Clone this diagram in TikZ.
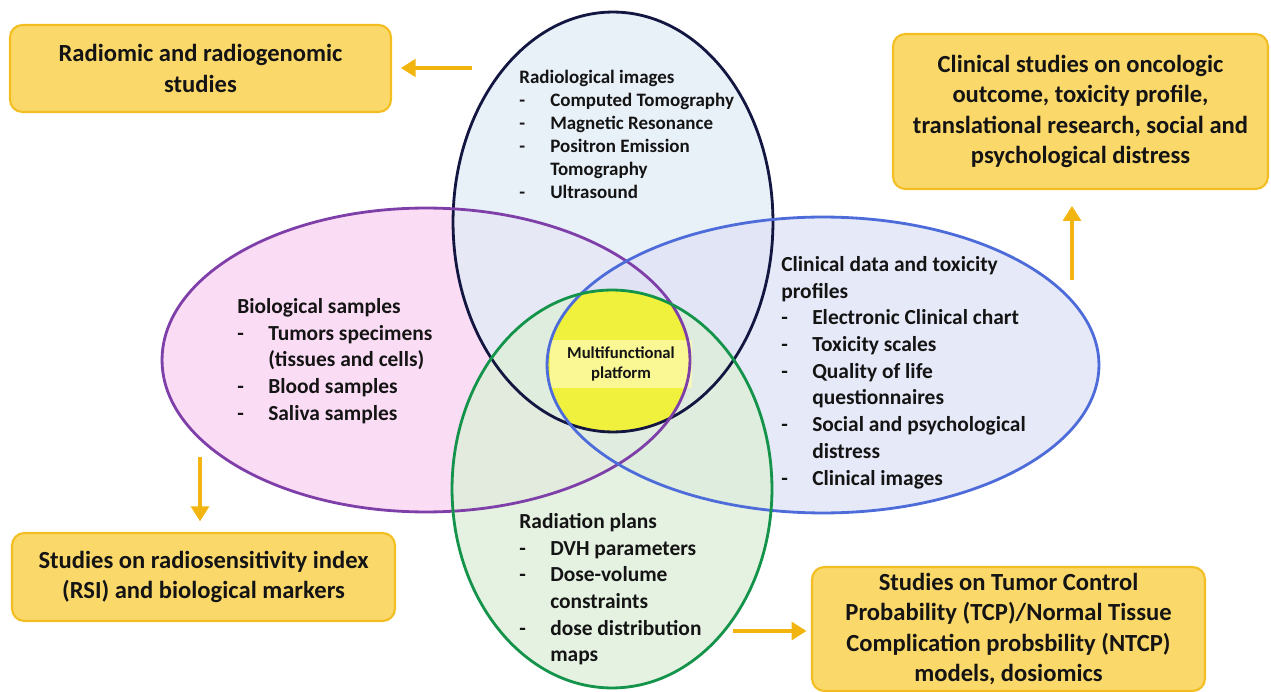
\documentclass[tikz,border=0pt]{standalone}
\usepackage{fontspec}
\setmainfont{Carlito}
\usepackage{tikz}
\usetikzlibrary{arrows.meta,positioning,shapes,calc}

\definecolor{ink}{HTML}{141414}
\definecolor{radioline}{HTML}{121640}
\definecolor{bioline}{HTML}{7E3FA8}
\definecolor{clinline}{HTML}{4D6CDA}
\definecolor{planline}{HTML}{14934A}
\definecolor{radiofill}{HTML}{E2ECF6}
\definecolor{biofill}{HTML}{FAD3F3}
\definecolor{clinfill}{HTML}{E0E3F6}
\definecolor{planfill}{HTML}{DEEFDA}
\definecolor{corefill}{HTML}{EFF13C}
\definecolor{boxfill}{HTML}{FBD86A}
\definecolor{boxline}{HTML}{F2BE22}
\definecolor{arrowcol}{HTML}{F2B50F}

\newcommand{\itemdash}{\makebox[17.6pt][l]{-}}% dash of a list entry
\newcommand{\itemcont}{\hspace*{17.6pt}}% second line of an entry

\begin{document}
\begin{tikzpicture}[x=0.02cm, y=-0.02cm,
     venn/.style = {fill=#1, fill opacity=0.8}, % soft fill of a set
     ring/.style = {draw=#1, line width=1.6pt}, % outline of a set
     arrow/.style = {draw=arrowcol, line width=2.5pt,
       -{Triangle[width=10pt,length=8.5pt]}},
     study/.style = {rectangle, rounded corners=7pt, draw=boxline,
       line width=1.2pt, fill=boxfill, align=center, inner sep=0pt,
       text=ink, font=\bfseries\fontsize{14}{17.3}\selectfont},
     group/.style = {anchor=north west, align=left, inner sep=0pt,
       text=ink, font=\bfseries\fontsize{12.2}{15.2}\selectfont},
     ]
     \useasboundingbox (0,0) rectangle (1271,692);

     % centres of the four sets
     \coordinate (radio) at (613,222);
     \coordinate (bio) at (426,360);
     \coordinate (clin) at (823,365);
     \coordinate (plan) at (612,489);

     \foreach \s/\c/\rx/\ry in {bio/biofill/5.28/3.04, radio/radiofill/3.2/4.2,
       clin/clinfill/5.52/2.96, plan/planfill/3.2/3.98}
     \fill[venn=\c] (\s) ellipse [x radius=\rx cm, y radius=\ry cm];

     % common part of all four sets
     \begin{scope}
       \clip (radio) ellipse [x radius=3.2cm, y radius=4.2cm];
       \clip (bio) ellipse [x radius=5.28cm, y radius=3.04cm];
       \clip (clin) ellipse [x radius=5.52cm, y radius=2.96cm];
       \clip (plan) ellipse [x radius=3.2cm, y radius=3.98cm];
       \fill[corefill] (500,250) rectangle (750,480);
     \end{scope}
     \node [fill=yellow!30!white, fill opacity=0.75, text opacity=1,
       minimum width=2.86cm, minimum height=0.96cm, align=center, text=ink,
       font=\bfseries\fontsize{9.5}{11.4}\selectfont] (core) at (621,364)
     {Multifunctional\\platform};

     \foreach \s/\c/\rx/\ry in {radio/radioline/3.2/4.2, bio/bioline/5.28/3.04,
       clin/clinline/5.52/2.96, plan/planline/3.2/3.98}
     \draw[ring=\c] (\s) ellipse [x radius=\rx cm, y radius=\ry cm];

     % contents of the sets
     \node [group, font=\bfseries\fontsize{10.8}{13.1}\selectfont] (radiotxt)
     at (519,70) {Radiological images\\ \itemdash Computed Tomography\\
       \itemdash Magnetic Resonance\\ \itemdash Positron Emission\\
       \itemcont Tomography\\ \itemdash Ultrasound};
     \node [group] (biotxt) at (237,298) {Biological samples\\
       \itemdash Tumors specimens\\ \itemcont (tissues and cells)\\
       \itemdash Blood samples\\ \itemdash Saliva samples};
     \node [group] (clintxt) at (781,256) {Clinical data and toxicity\\
       profiles\\ \itemdash Electronic Clinical chart\\
       \itemdash Toxicity scales\\ \itemdash Quality of life\\
       \itemcont questionnaires\\ \itemdash Social and psychological\\
       \itemcont distress\\ \itemdash Clinical images};
     \node [group] (plantxt) at (519,513) {Radiation plans\\
       \itemdash DVH parameters\\ \itemdash Dose-volume\\
       \itemcont constraints\\ \itemdash dose distribution\\
       \itemcont maps};

     % studies fed by each set
     \node [study, minimum width=7.62cm, minimum height=1.74cm] (radiomic)
     at (200.5,68.5) {Radiomic and radiogenomic\\studies};
     \node [study, minimum width=7.5cm, minimum height=3.1cm] (clinstudy)
     at (1080.5,111.5) {Clinical studies on oncologic\\outcome, toxicity
       profile,\\translational research, social and\\psychological distress};
     \node [study, minimum width=7.66cm, minimum height=1.76cm] (rsi)
     at (203.5,577) {Studies on radiosensitivity index\\(RSI) and biological
       markers};
     \node [study, minimum width=7.86cm, minimum height=2.48cm] (tcp)
     at (1008.5,629) {Studies on Tumor Control\\Probability (TCP)/Normal
       Tissue\\Complication probsbility (NTCP)\\models, dosiomics};

     \coordinate (radio out) at (472,68);
     \coordinate (clin out) at (1072,280);
     \coordinate (bio out) at (200,457);
     \coordinate (plan out) at (733,631);
     \draw[arrow, shorten >=5pt] (radio out) -- (radio out -| radiomic.east);
     \draw[arrow, shorten >=9pt] (clin out) -- (clin out |- clinstudy.south);
     \draw[arrow, shorten >=6pt] (bio out) -- (bio out |- rsi.north);
     \draw[arrow, shorten >=2.5pt] (plan out) -- (plan out -| tcp.west);

   \end{tikzpicture}
\end{document}
